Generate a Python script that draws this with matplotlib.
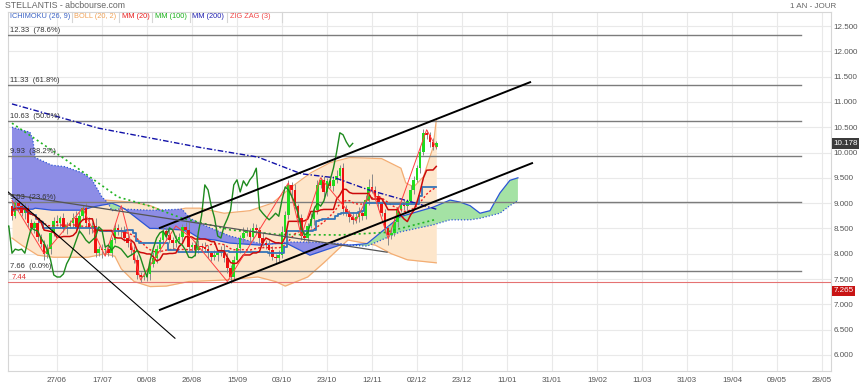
import matplotlib
matplotlib.use("Agg")
import matplotlib.pyplot as plt
from matplotlib.lines import Line2D
import numpy as np
import pandas as pd

plt.rcParams["font.family"] = ["Liberation Sans", "DejaVu Sans"]

# ---------------- data (x = trading-day index, y = price) ----------------
close = [8.75, 9.00, 8.95, 8.80, 8.90, 8.60, 8.50, 8.60, 8.33, 8.20,
         8.00, 8.10, 8.40, 8.65, 8.60, 8.70, 8.50, 8.55, 8.60, 8.70,
         8.50, 8.75, 8.90, 8.60, 8.50, 8.55, 8.01, 8.09, 8.07, 8.09,
         8.01, 8.27, 8.51, 8.47, 8.45, 8.31, 8.21, 8.07, 7.88, 7.58,
         7.54, 7.54, 7.60, 7.80, 7.92, 8.09, 8.27, 8.45, 8.37, 8.27,
         8.21, 8.27, 8.33, 8.53, 8.47, 8.13, 8.17, 8.07, 8.15, 8.13,
         8.09, 8.01, 7.93, 7.97, 8.01, 8.07, 7.92, 7.72, 7.54, 7.88,
         8.11, 8.31, 8.41, 8.45, 8.33, 8.51, 8.47, 8.31, 8.21, 8.17,
         8.07, 7.93, 7.92, 7.97, 8.43, 8.76, 9.36, 9.26, 8.94, 8.71,
         8.35, 8.31, 8.55, 8.69, 8.86, 9.36, 9.46, 9.22, 9.44, 9.34,
         9.46, 9.54, 9.69, 8.88, 8.80, 8.73, 8.67, 8.73, 8.80, 8.74,
         9.06, 9.32, 9.26, 9.14, 9.00, 8.80, 8.51, 8.37, 8.41, 8.63,
         8.88, 9.00, 8.94, 9.04, 9.26, 9.46, 9.69, 10.01, 10.39, 10.35,
         10.21, 10.11, 10.18]
first_open = 8.95
wick_up = [0.10, 0.12, 0.05, 0.08, 0.10, 0.06, 0.08, 0.05, 0.10, 0.06,
           0.08, 0.10, 0.06, 0.08, 0.12, 0.05, 0.10, 0.08, 0.06, 0.10,
           0.15, 0.08, 0.06, 0.10, 0.12, 0.08, 0.15, 0.06, 0.10, 0.08,
           0.12, 0.06, 0.10, 0.08, 0.05, 0.10, 0.12, 0.06, 0.08, 0.10,
           0.06, 0.08, 0.10, 0.05, 0.12, 0.08, 0.06, 0.10, 0.08, 0.12,
           0.06, 0.10, 0.08, 0.05, 0.10, 0.15, 0.06, 0.08, 0.12, 0.06,
           0.10, 0.08, 0.05, 0.10, 0.06, 0.08, 0.12, 0.10, 0.06, 0.08,
           0.10, 0.05, 0.12, 0.08, 0.06, 0.10, 0.08, 0.05, 0.12, 0.06,
           0.10, 0.08, 0.06, 0.10, 0.12, 0.08, 0.10, 0.06, 0.12, 0.05,
           0.08, 0.10, 0.06, 0.12, 0.08, 0.10, 0.06, 0.08, 0.05, 0.10,
           0.08, 0.12, 0.06, 0.10, 0.08, 0.06, 0.10, 0.08, 0.12, 0.06,
           0.10, 0.15, 0.25, 0.08, 0.06, 0.10, 0.08, 0.06, 0.10, 0.08,
           0.06, 0.10, 0.08, 0.05, 0.10, 0.08, 0.06, 0.12, 0.08, 0.05,
           0.06, 0.08, 0.05]
wick_dn = [0.08, 0.05, 0.10, 0.06, 0.12, 0.08, 0.05, 0.10, 0.08, 0.06,
           0.12, 0.08, 0.10, 0.05, 0.06, 0.10, 0.08, 0.12, 0.05, 0.08,
           0.06, 0.10, 0.08, 0.05, 0.12, 0.10, 0.08, 0.06, 0.15, 0.10,
           0.05, 0.08, 0.06, 0.10, 0.12, 0.05, 0.08, 0.10, 0.06, 0.08,
           0.10, 0.05, 0.08, 0.12, 0.06, 0.10, 0.05, 0.08, 0.10, 0.06,
           0.12, 0.08, 0.05, 0.10, 0.06, 0.08, 0.10, 0.12, 0.05, 0.08,
           0.06, 0.10, 0.08, 0.05, 0.12, 0.06, 0.08, 0.10, 0.12, 0.06,
           0.05, 0.10, 0.08, 0.06, 0.12, 0.05, 0.08, 0.10, 0.06, 0.08,
           0.12, 0.05, 0.10, 0.08, 0.06, 0.10, 0.08, 0.12, 0.05, 0.10,
           0.08, 0.06, 0.10, 0.05, 0.12, 0.08, 0.06, 0.10, 0.08, 0.05,
           0.10, 0.06, 0.08, 0.12, 0.05, 0.10, 0.08, 0.06, 0.10, 0.08,
           0.05, 0.10, 0.06, 0.08, 0.12, 0.06, 0.10, 0.20, 0.08, 0.06,
           0.10, 0.05, 0.08, 0.10, 0.06, 0.08, 0.05, 0.10, 0.06, 0.08,
           0.10, 0.06, 0.05]

tick_labels = ["27/06", "17/07", "06/08", "26/08", "15/09", "03/10", "23/10",
               "12/11", "02/12", "23/12", "11/01", "31/01", "19/02", "11/03",
               "31/03", "19/04", "09/05", "28/05"]
first_tick, tick_every = 14, 14

# Bollinger (20, 2)
boll_x = [0, 3, 8, 13, 21, 29, 37, 43, 48, 54, 58.5, 66, 74, 81, 87, 93, 99,
          105, 115, 121, 122.5, 125, 128, 131, 132]
boll_up = [9.89, 9.60, 9.20, 9.02, 9.05, 9.06, 9.02, 8.95, 8.82, 8.90, 8.90,
           8.80, 8.85, 9.00, 9.32, 9.60, 9.80, 9.90, 9.88, 9.69, 9.40, 9.32,
           9.52, 10.10, 10.64]
boll_lo_x = [0, 3, 8, 13, 23.6, 29, 32, 34, 38, 43, 48, 55, 66, 76.5, 82, 85,
             92, 97, 104.5, 113, 118, 123, 132]
boll_lo = [8.31, 8.17, 7.97, 7.93, 7.93, 8.00, 7.95, 7.70, 7.45, 7.35, 7.36,
           7.45, 7.48, 7.54, 7.45, 7.36, 7.54, 7.82, 8.27, 8.17, 8.00, 7.88, 7.82]

# moving averages 100 / 200
mm100_x = [0, 16, 33, 42, 53, 68, 83, 102, 116, 132]
mm100 = [10.58, 9.89, 9.12, 8.96, 8.70, 8.47, 8.38, 8.37, 8.42, 8.68]
mm200_x = [0, 27, 58.5, 76.5, 90, 100.5, 111, 125.5, 132]
mm200 = [10.96, 10.48, 10.10, 9.91, 9.58, 9.50, 9.26, 9.00, 8.88]

# Ichimoku cloud (senkou spans, already shifted 26 forward)
cloud_x = [0, 5.6, 6.5, 7.2, 12.4, 16.5, 21.8, 24.9, 28, 29.9, 31.1, 33, 35.2,
           42.9, 44.5, 52.9, 55.4, 58.5, 63.2, 67.8, 77.2, 81.8, 85.6, 92.7,
           102, 105.2, 110.5, 120.7, 131, 136.3, 139.4, 142.5, 145.6, 148.7,
           151.8, 154.9, 157.4]
span_b = [10.50, 10.40, 10.25, 9.90, 9.75, 9.72, 9.60, 9.46, 9.12, 9.00, 8.85,
          8.88, 8.88, 8.86, 8.86, 8.88, 8.70, 8.60, 8.47, 8.35, 8.20, 8.20,
          8.23, 8.23, 8.20, 8.17, 8.15, 8.43, 8.57, 8.67, 8.67, 8.67, 8.70,
          8.75, 8.80, 8.95, 9.05]
span_a = [8.86, 8.88, 8.88, 8.90, 8.86, 8.86, 8.86, 8.92, 8.96, 8.98, 9.00,
          8.95, 8.88, 8.50, 8.50, 8.47, 8.42, 8.30, 8.27, 8.21, 8.17, 8.20,
          8.20, 7.97, 8.17, 8.17, 8.20, 8.73, 8.92, 9.06, 9.02, 8.95, 8.80,
          8.85, 9.20, 9.45, 9.50]

# zig zag (3) swing points
zz_x = [0, 10, 22, 29, 34, 40, 51, 56, 67, 86, 90, 96, 107, 112, 117, 129, 132]
zz_y = [9.05, 8.00, 8.90, 7.95, 8.95, 7.48, 8.55, 8.30, 7.45, 9.40, 8.35,
        9.50, 8.65, 9.30, 8.30, 10.45, 10.10]

# Fibonacci levels
fib_levels = [12.33, 11.33, 10.63, 9.93, 9.03, 7.66]
fib_pcts = ["78.6%", "61.8%", "50.0%", "38.2%", "23.6%", "0.0%"]
fib_end = 245.6
low_line = 7.44
last_price = 10.178
low_mark = 7.265

# trend lines: (x0, y0, x1, y1)
channel_up = (46, 8.51, 161.2, 11.39)
channel_dn = (46, 6.89, 161.8, 9.79)
down_line = (-1.2, 9.22, 50.7, 6.33)
grey_line = (-1.2, 9.18, 116.7, 8.03)

# ---------------- derived series ----------------
c = np.array(close)
idx = np.arange(len(c))
o = np.array([first_open] + close[:-1])
hi = np.maximum(o, c) + np.array(wick_up)
lo = np.minimum(o, c) - np.array(wick_dn)
s_hi, s_lo, s_c = pd.Series(hi), pd.Series(lo), pd.Series(c)
tenkan = (s_hi.rolling(9, min_periods=1).max() + s_lo.rolling(9, min_periods=1).min()) / 2
kijun = (s_hi.rolling(26, min_periods=1).max() + s_lo.rolling(26, min_periods=1).min()) / 2
mm20 = s_c.rolling(20, min_periods=1).mean()

# ---------------- figure ----------------
fig = plt.figure(figsize=(8.59, 3.86), dpi=100)
ax = fig.add_axes([8 / 859, 15 / 386, 823 / 859, 359 / 386])
ax.set_xlim(-1.24, 254.8)
ax.set_ylim(5.682, 12.777)

grid_c = "#e9e9e9"
ticks_x = first_tick + tick_every * np.arange(len(tick_labels))
ax.set_xticks(ticks_x)
ax.set_xticklabels(tick_labels)
yt = np.arange(6.0, 12.51, 0.5)
ax.set_yticks(yt)
ax.set_yticklabels(["%.3f" % v for v in yt])
ax.yaxis.tick_right()
ax.tick_params(axis="both", length=0, labelsize=5.8, colors="#555555")
ax.tick_params(axis="x", pad=4.5)
ax.tick_params(axis="y", pad=1.8)
ax.grid(True, color=grid_c, lw=0.8)
ax.set_axisbelow(True)
for sp in ax.spines.values():
    sp.set_color("#d6d6d6")
    sp.set_linewidth(0.8)

# Bollinger band
bx = np.union1d(boll_x, boll_lo_x)
bu = np.interp(bx, boll_x, boll_up)
bl = np.interp(bx, boll_lo_x, boll_lo)
ax.fill_between(bx, bl, bu, color="#fde6cb", lw=0, zorder=1)
ax.plot(boll_x, boll_up, color="#f3ad73", lw=0.9, zorder=2)
ax.plot(boll_lo_x, boll_lo, color="#f3ad73", lw=0.9, zorder=2)

# Ichimoku cloud
sa, sb = np.array(span_a), np.array(span_b)
ax.fill_between(cloud_x, sa, sb, where=sa >= sb, interpolate=True,
                color="#a4e2a4", lw=0, zorder=2)
ax.fill_between(cloud_x, sa, sb, where=sa < sb, interpolate=True,
                color="#8d8de6", lw=0, zorder=2)
ax.plot(cloud_x, span_a, color="#2c55d6", lw=0.9, zorder=3)
ax.plot(cloud_x, span_b, color="#2c55d6", lw=0.9, ls=(0, (1, 1.5)), zorder=3)

# Fibonacci levels
for lv, pc in zip(fib_levels, fib_pcts):
    ax.plot([-1.24, fib_end], [lv, lv], color="#7c7c7c", lw=1.0, zorder=3)
    ax.text(-0.6, lv + 0.02, "%.2f  (%s)" % (lv, pc), fontsize=5.5,
            color="#333333", va="bottom", ha="left", zorder=8)
ax.axhline(low_line, color="#e57272", lw=0.8, zorder=3)
ax.text(0.0, low_line + 0.03, "%.2f" % low_line, fontsize=5.5, color="#e03030",
        va="bottom", ha="left", zorder=8)

# candles
up = c >= o
ax.vlines(idx, lo, hi, colors="#8a8a8a", lw=0.7, zorder=4)
body = np.maximum(np.abs(c - o), 0.015)
ax.bar(idx, body, bottom=np.minimum(o, c), width=0.8,
       color=np.where(up, "#1fdc1f", "#ee1111"), lw=0, zorder=5)

# indicator lines
ax.plot(mm200_x, mm200, color="#1010a8", lw=1.0, ls=(0, (4, 1.5, 1, 1.5)), zorder=6)
ax.plot(mm100_x, mm100, color="#22b422", lw=1.2, ls=(0, (1.2, 1.8)), zorder=6)
ax.plot(idx, mm20, color="#ee2020", lw=1.0, ls=(0, (1.5, 1.5)), zorder=6)
ax.plot(idx, kijun, color="#3575b8", lw=1.3, drawstyle="steps-mid", zorder=6)
ax.plot(idx, tenkan, color="#cc0a0a", lw=1.1, zorder=6)
ax.plot(zz_x, zz_y, color="#ff4040", lw=0.7, zorder=6)
ax.plot(idx - 26, c, color="#1e8a1e", lw=1.0, zorder=6)

# trend lines
for ln, col, lw in [(channel_up, "black", 1.4), (channel_dn, "black", 1.4),
                    (down_line, "black", 0.8), (grey_line, "#555555", 0.9)]:
    ax.plot([ln[0], ln[2]], [ln[1], ln[3]], color=col, lw=lw, zorder=7)

# price boxes on the right axis
yt_tr = ax.get_yaxis_transform()
ax.text(1.003, last_price, "%.3f" % last_price, transform=yt_tr, fontsize=5.8,
        color="white", ha="left", va="center", zorder=10, clip_on=False,
        bbox=dict(boxstyle="square,pad=0.2", fc="#3b3b3b", ec="none"))
ax.text(1.003, low_mark, "%.3f" % low_mark, transform=yt_tr, fontsize=5.8,
        color="white", ha="left", va="center", zorder=10, clip_on=False,
        bbox=dict(boxstyle="square,pad=0.2", fc="#c81414", ec="none"))

# header and indicator legend
fig.text(5 / 859, 1 - 6 / 386, "STELLANTIS - abcbourse.com", fontsize=6.3,
         color="#666666", va="center", ha="left")
fig.text(813 / 859, 1 - 6 / 386, "1 AN - JOUR", fontsize=5.8,
         color="#666666", va="center", ha="center")
legend_items = [("ICHIMOKU (26, 9)", "#3a62c4", 10), ("BOLL (20, 2)", "#f0a256", 74),
                ("MM (20)", "#e81c1c", 122), ("MM (100)", "#19b019", 155),
                ("MM (200)", "#2020b0", 192), ("ZIG ZAG (3)", "#f04848", 230)]
for txt, col, px in legend_items:
    fig.text(px / 859, 1 - 16.5 / 386, txt, fontsize=5.3, color=col,
             va="center", ha="left")
for px in [72, 119, 152, 189.5, 227, 282]:
    fig.add_artist(Line2D([px / 859, px / 859], [1 - 12 / 386, 1 - 22 / 386],
                          color="#d6d6d6", lw=0.8))

fig.savefig("out.png", dpi=100)
